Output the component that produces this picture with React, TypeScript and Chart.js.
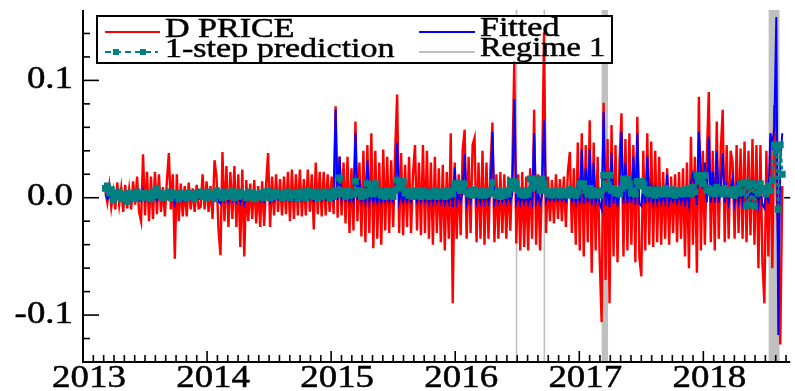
import React, { useEffect, useRef } from "react";
import { Chart, registerables } from "chart.js";

Chart.register(...registerables);

// Series sampled on a regular time grid (years), values in units of 1e-3
const START_YEAR = 2013.18;
const STEP_YEAR = 0.016;

const D_PRICE = [
  6, -4, 10, -8, 5, -10, 13, -6, 8, -12,
  11, -9, 7, -10, 14, -6, 18, -12, -20, 37,
  -15, 22, -20, 18, -18, 22, -14, 20, -12, 9,
  -16, 14, 38, -10, 20, -52, 20, -20, 12, -16,
  10, -16, 13, -10, 8, -12, 11, -9, -8, 20,
  -10, 14, -12, 10, -18, 32, 18, -27, -49, 39,
  -20, 27, -25, 22, -18, 27, -25, 20, -42, 24,
  -50, 15, -20, 12, -18, 15, -22, 10, -25, 14,
  -24, 12, 38, -25, 18, -15, 20, -12, 16, -15,
  18, -14, 22, -20, 24, -18, 20, -15, 24, -16,
  16, -15, 24, -12, 20, -27, 30, -14, 22, -16,
  22, -15, 20, -12, 18, -14, 78, -17, 35, -15,
  30, -22, 35, -30, 25, -28, 65, -20, 30, -33,
  40, -38, 45, -30, 55, -43, 40, -35, 30, -40,
  41, -28, 35, -30, 32, -25, 40, 88, -30, 38,
  -32, 28, -25, 35, -30, 20, 45, -28, 30, -32,
  45, -30, 40, -35, 30, -40, 35, -30, 25, -38,
  28, -45, 22, -35, 55, -90, 30, -35, 20, -32,
  40, 58, -35, 35, -30, 45, 51, -38, 30, -35,
  40, -40, 30, -35, 25, 64, -38, 20, -35, 22,
  -30, 20, -35, 18, -28, 22, 116, -39, 20, -45,
  22, -42, 18, -45, 25, -35, 75, -40, 20, -45,
  15, 141, -30, 18, -20, 15, -22, 20, -18, 16,
  -20, 18, -25, 22, 39, -30, 25, -40, 47, -45,
  55, -50, 45, -38, 66, -64, 47, -45, 35, -50,
  -106, 81, -70, 50, -90, 62, -50, 45, -55, 30,
  72, -50, 50, -45, 55, -40, 45, -55, 69, -50,
  -67, 40, -45, 55, -40, 48, -42, 40, -38, 35,
  -40, 22, -35, 25, -40, 18, -30, 20, -38, 22,
  -35, 25, -50, 30, -60, 52, -40, 35, -64, 86,
  -45, 40, -40, 35, 90, -38, 40, -45, 65, -35,
  40, 75, -38, 45, -35, 40, 30, -35, 45, -30,
  42, -35, 48, -38, 40, -32, 50, -40, 45, -60,
  45, -55, -90, 40, -50, 50, -60, 79, 20, -40, -125, 10,
];

const FITTED = [
  3, -1, 3, -2, 2, -2, 3, -1, 2, -2,
  3, -2, 2, -2, 3, -1, 3, -2, -3, 6,
  -2, 3, -2, 3, -2, 3, -2, 3, -1, 2,
  -2, 2, 5, -1, 3, -5, 3, -2, 2, -2,
  2, -2, 2, -1, 1, -1, 2, -1, -1, 3,
  -1, 2, -1, 2, -2, 4, 2, -3, -5, 5,
  -2, 4, -3, 3, -2, 4, -3, 3, -4, 3,
  -5, 2, -2, 2, -2, 2, -2, 2, -3, 2,
  -3, 2, 5, -3, 3, -2, 3, -1, 2, -2,
  3, -1, 3, -2, 3, -2, 3, -2, 3, -2,
  2, -2, 3, -1, 3, -3, 4, -1, 3, -2,
  3, -2, 3, -1, 3, -1, 75, -2, 35, -2,
  4, -2, 5, -3, 3, -3, 55, -2, 15, -3,
  5, -4, 32, -3, 6, -4, 5, -4, 4, -4,
  5, -3, 5, -3, 4, -3, 5, 47, -3, 5,
  -3, 4, -3, 5, -3, 3, 6, -3, 4, -3,
  6, -3, 5, -4, 4, -4, 5, -3, 3, -4,
  4, -5, 3, -4, 6, -8, 26, -4, 3, -3,
  5, 37, -4, 5, -3, 6, 6, -4, 4, -4,
  5, -4, 4, -4, 3, 56, -4, 3, -4, 3,
  -3, 3, -4, 3, -3, 3, 84, -4, 3, -5,
  3, -4, 3, -5, 3, -4, 55, -4, 3, -5,
  2, 66, -3, 3, -2, 2, -2, 3, -2, 2,
  -2, 3, -3, 3, 8, -3, 4, -4, 12, -5,
  41, -5, 25, -4, 41, -6, 30, -5, 6, -5,
  -10, 73, -7, 10, -8, 38, -5, 8, -6, 6,
  56, -5, 30, -5, 12, -4, 35, -6, 55, -5,
  -7, 8, -5, 35, -4, 10, -4, 8, -4, 6,
  -4, 4, -4, 20, -4, 3, -3, 3, -4, 4,
  -4, 4, -5, 6, -6, 13, 20, 7, -6, 56,
  25, 8, 30, -4, 52, -4, 22, -4, 40, -4,
  8, 38, -4, 9, -4, 8, 17, -4, 9, -3,
  8, -4, 10, -4, 8, -3, 10, -4, 9, -6,
  9, -6, -9, 8, -5, 55, 45, 60, 154, -117, 30, 55,
];

const PREDICTION = [
  8, 10, 4, 7, -2, 4, 1, 5, -1, 3,
  2, -3, 4, 0, 3, -1, 5, 1, 3, 0,
  4, 1, 3, -1, 5, 2, 8, 2, 4, 0,
  3, 1, 5, 0, 4, 2, 3, -1, 4, 1,
  3, 0, 4, 1, 3, -1, 4, 2, 5, 1,
  4, 0, 5, 1, 3, -1, 6, 2, 4, 0,
  5, 1, 4, 2, 6, 0, 4, 1, 5, 2,
  3, 0, 5, 1, 4, -1, 3, 1, 4, 0,
  5, 2, 6, 0, 4, 1, 5, 2, 3, 0,
  4, 1, 5, 0, 3, 2, 4, -1, 5, 1,
  4, 0, 6, 2, 4, 1, 5, 0, 3, 1,
  5, 2, 4, 0, 5, 1, 6, 3, 17, 4,
  5, 1, 6, 2, 4, 3, 14, 4, 6, 1,
  5, 2, 12, 4, 10, 3, 12, 5, 6, 2,
  5, 1, 6, 2, 5, 1, 6, 15, 12, 8,
  14, 4, 6, 2, 5, 1, 6, 2, 5, 1,
  6, 2, 5, 1, 4, 2, 6, 1, 5, 2,
  5, 1, 6, 2, 6, 3, 12, 8, 12, 6,
  10, 12, 5, 3, 6, 2, 7, 3, 5, 2,
  6, 2, 5, 3, 6, 13, 4, 2, 6, 1,
  5, 2, 6, 3, 14, 8, 14, 12, 6, 3,
  5, 2, 6, 3, 16, 8, 16, 14, 10, 6,
  16, 12, 6, 3, 5, 2, 6, 3, 5, 2,
  6, 3, 5, 2, 7, 3, 6, 2, 5, 12,
  10, 12, 6, 3, 8, 2, 6, 3, 5, 2,
  6, 19, 10, 8, 19, 6, 8, 4, 6, 3,
  8, 16, 10, 16, 12, 4, 6, 3, 14, 10,
  14, 12, 6, 4, 7, 3, 6, 2, 7, 4,
  6, 3, 8, 4, 6, 3, 7, 2, 6, 4,
  6, 3, 7, 4, 8, 3, 9, 5, 19, 14,
  19, 12, 19, 6, 8, 4, 7, 3, 9, 5,
  7, 3, 8, 4, 6, 3, 7, 2, 8, 4,
  12, 5, 12, -7, 10, -6, 12, -7, 10, 4,
  12, 6, 8, 3, 10, 6, 15, 45, 40, -10, 45, 20,
];

// Regime 1 periods (years)
const REGIME_START = [2016.488, 2016.712, 2017.18, 2018.526];
const REGIME_END = [2016.5, 2016.724, 2017.232, 2018.614];

const X_MIN = 2013.0;
const X_MAX = 2018.7;
const Y_MIN = -0.14;
const Y_MAX = 0.16;
const YEAR_LABELS = [2013, 2014, 2015, 2016, 2017, 2018];
const Y_MAJOR = [-0.1, 0.0, 0.1];
const Y_LABELS = ["-0.1", "0.0", "0.1"];

const RED = "#ff0000";
const BLUE = "#0000ff";
const TEAL = "#008080";
const GREY = "#c0c0c0";
const SERIF = '"Liberation Serif", "Times New Roman", serif';

const toPoints = (arr: number[]) =>
  arr.map((v, i) => ({ x: START_YEAR + i * STEP_YEAR, y: v / 1000 }));

function txt(ctx: CanvasRenderingContext2D, s: string, x: number, y: number, size: number, sx: number, align: CanvasTextAlign) {
  ctx.save();
  ctx.font = `${size}px ${SERIF}`;
  ctx.fillStyle = "#000";
  ctx.strokeStyle = "#000";
  ctx.lineWidth = 0.5;
  ctx.textBaseline = "alphabetic";
  ctx.textAlign = align;
  ctx.translate(x, y);
  ctx.scale(sx, 1);
  ctx.fillText(s, 0, 0);
  ctx.strokeText(s, 0, 0);
  ctx.restore();
}

const overlay = {
  id: "overlay",
  beforeDatasetsDraw(chart: any) {
    const { ctx, chartArea: a, scales } = chart;
    const xs = scales.x;
    ctx.save();
    ctx.fillStyle = GREY;
    for (let i = 0; i < REGIME_START.length; i++) {
      const x0 = xs.getPixelForValue(REGIME_START[i]);
      const x1 = xs.getPixelForValue(REGIME_END[i]);
      ctx.fillRect(x0, a.top, Math.max(1.6, x1 - x0), a.bottom - a.top);
    }
    // legend background
    ctx.fillStyle = "#fff";
    ctx.fillRect(97, 16, 515, 47);
    ctx.restore();
  },
  afterDatasetsDraw(chart: any) {
    const { ctx, chartArea: a, scales } = chart;
    const xs = scales.x;
    const ys = scales.y;
    ctx.save();
    ctx.strokeStyle = "#000";
    ctx.lineWidth = 2;
    ctx.beginPath();
    ctx.moveTo(a.left, a.top);
    ctx.lineTo(a.left, a.bottom);
    ctx.lineTo(a.right, a.bottom);
    ctx.stroke();

    // y ticks
    ctx.lineWidth = 1.6;
    for (let k = -6; k <= 7; k++) {
      const v = k * 0.02;
      const py = ys.getPixelForValue(v);
      const len = k % 5 === 0 ? 16 : 7;
      ctx.beginPath();
      ctx.moveTo(a.left, py);
      ctx.lineTo(a.left + len, py);
      ctx.stroke();
    }
    // right-edge zero tick
    const pz = ys.getPixelForValue(0);
    ctx.beginPath();
    ctx.moveTo(a.right - 6, pz);
    ctx.lineTo(a.right, pz);
    ctx.stroke();

    // x ticks (monthly)
    for (let m = 1; m <= 12 * 6; m++) {
      const v = X_MIN + m / 12;
      if (v > X_MAX) break;
      const px = xs.getPixelForValue(v);
      const len = m % 12 === 0 ? 11 : 7;
      ctx.beginPath();
      ctx.moveTo(px, a.bottom);
      ctx.lineTo(px, a.bottom - len);
      ctx.stroke();
    }
    ctx.restore();

    // tick labels
    Y_MAJOR.forEach((v, i) => {
      txt(ctx, Y_LABELS[i], 73, ys.getPixelForValue(v) + 7.5, 31, 1.19, "right");
    });
    YEAR_LABELS.forEach((yr) => {
      txt(ctx, String(yr), xs.getPixelForValue(yr) + 6, 387, 31, 1.19, "center");
    });

    // legend
    ctx.save();
    ctx.strokeStyle = "#000";
    ctx.lineWidth = 2;
    ctx.strokeRect(97, 16, 515, 47);
    ctx.lineWidth = 2;
    ctx.strokeStyle = RED;
    ctx.beginPath();
    ctx.moveTo(105, 32);
    ctx.lineTo(160, 32);
    ctx.stroke();
    ctx.strokeStyle = BLUE;
    ctx.beginPath();
    ctx.moveTo(419, 32);
    ctx.lineTo(475, 32);
    ctx.stroke();
    ctx.strokeStyle = GREY;
    ctx.beginPath();
    ctx.moveTo(419, 52);
    ctx.lineTo(475, 52);
    ctx.stroke();
    ctx.strokeStyle = TEAL;
    ctx.fillStyle = TEAL;
    ctx.setLineDash([6, 4]);
    ctx.beginPath();
    ctx.moveTo(105, 52);
    ctx.lineTo(158, 52);
    ctx.stroke();
    ctx.setLineDash([]);
    ctx.fillRect(113, 49, 6, 6);
    ctx.fillRect(140, 49, 6, 6);
    ctx.restore();

    txt(ctx, "D PRICE", 165, 37, 27, 1.26, "left");
    txt(ctx, "1-step prediction", 165, 57, 27, 1.26, "left");
    txt(ctx, "Fitted", 480, 36, 27, 1.26, "left");
    txt(ctx, "Regime 1", 480, 56, 27, 1.2, "left");
  },
};

export default function App() {
  const ref = useRef<HTMLCanvasElement | null>(null);
  useEffect(() => {
    document.body.style.margin = "0";
    const canvas = ref.current;
    if (!canvas) return;
    const chart = new Chart(canvas, {
      type: "line",
      data: {
        datasets: [
          {
            label: "1-step prediction",
            data: toPoints(PREDICTION),
            borderColor: TEAL,
            backgroundColor: TEAL,
            borderWidth: 2.5,
            borderDash: [4, 3],
            pointStyle: "rect",
            pointRadius: 4.8,
            pointBorderWidth: 0,
            pointBackgroundColor: TEAL,
            order: 1,
          },
          {
            label: "Fitted",
            data: toPoints(FITTED),
            borderColor: BLUE,
            borderWidth: 2,
            pointRadius: 0,
            order: 2,
          },
          {
            label: "D PRICE",
            data: toPoints(D_PRICE),
            borderColor: RED,
            borderWidth: 2.4,
            pointRadius: 0,
            order: 3,
          },
        ],
      },
      options: {
        responsive: false,
        animation: false,
        devicePixelRatio: 1,
        layout: { padding: { left: 83, top: 10, right: 0, bottom: 29 } },
        plugins: { legend: { display: false }, tooltip: { enabled: false } },
        elements: { line: { tension: 0 } },
        scales: {
          x: { type: "linear", min: X_MIN, max: X_MAX, display: false },
          y: { type: "linear", min: Y_MIN, max: Y_MAX, display: false },
        },
      },
      plugins: [overlay],
    });
    return () => chart.destroy();
  }, []);
  return (
    <div style={{ width: 795, height: 391 }}>
      <canvas ref={ref} width={795} height={391} style={{ display: "block" }} />
    </div>
  );
}
